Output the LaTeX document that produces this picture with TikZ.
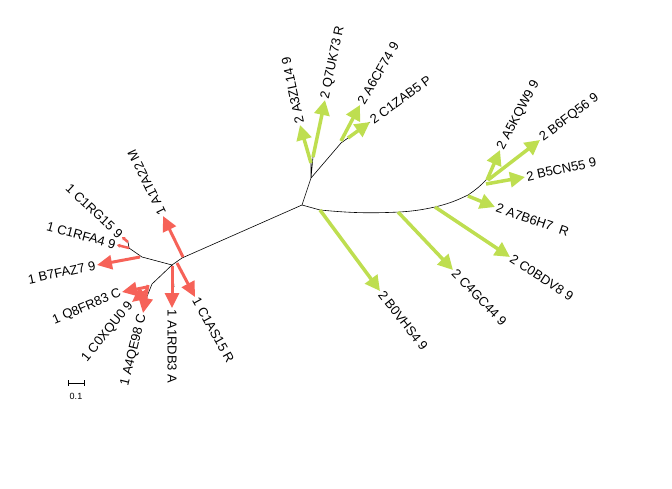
\documentclass[tikz,border=0pt]{standalone}
\usepackage{fontspec}
\setmainfont{Liberation Sans}
\usetikzlibrary{arrows.meta, positioning}

\definecolor{leafred}{RGB}{246,98,88}
\definecolor{leafgreen}{RGB}{190,222,80}

\tikzset{
	branch/.style={draw=black, line width=0.6pt},
	redarrow/.style={draw=leafred, line width=3pt, -{Triangle[length=15pt, width=14pt]}},
	redstub/.style={draw=leafred, line width=2.5pt, -{Triangle[length=3pt, width=4pt]}},
	greenarrow/.style={draw=leafgreen, line width=3.5pt, -{Triangle[length=15pt, width=15pt]}},
	leaf/.style={font=\fontsize{13}{15}\selectfont, inner sep=1.5pt},
}

\begin{document}
\begin{tikzpicture}[x=1pt, y=-1pt]
	\useasboundingbox (0,0) rectangle (672,488);
	% inner nodes of the tree
	\coordinate (root) at (302,205);
	\coordinate (up1) at (311,178);
	\coordinate (up2) at (341,143);
	\coordinate (rt1) at (320,210);
	\coordinate (rt2) at (400,212);
	\coordinate (rt3) at (435,207);
	\coordinate (rt4) at (468,195);
	\coordinate (rt5) at (487,179);
	\coordinate (lf1) at (182,258);
	\coordinate (lf2) at (172,265);
	\coordinate (lf3) at (142,257);
	\coordinate (lf4) at (129,248);
	\coordinate (lf5) at (152,284);
	\coordinate (lf6) at (146,299);
	\coordinate (lf7) at (174,287);
	% arrow starts and tips
	\coordinate (sA3ZL14) at (311,163);  \coordinate (eA3ZL14) at (300,125);
	\coordinate (sQ7UK73) at (313,157);  \coordinate (eQ7UK73) at (325,100);
	\coordinate (sA6CF74) at (341,141);  \coordinate (eA6CF74) at (360,105);
	\coordinate (sC1ZAB5) at (348,138);  \coordinate (eC1ZAB5) at (370,122);
	\coordinate (sB0VHS4) at (320,210);  \coordinate (eB0VHS4) at (380,291);
	\coordinate (sC4GC44) at (398,212);  \coordinate (eC4GC44) at (453,270);
	\coordinate (sC0BDV8) at (435,207);  \coordinate (eC0BDV8) at (510,257);
	\coordinate (sA7B6H7) at (468,196);  \coordinate (eA7B6H7) at (495,207);
	\coordinate (sB5CN55) at (486,184);  \coordinate (eB5CN55) at (525,177);
	\coordinate (sB6FQ56) at (488,180);  \coordinate (eB6FQ56) at (540,140);
	\coordinate (sA5KQW9) at (487,180);  \coordinate (eA5KQW9) at (500,150);
	\coordinate (sA1TA22) at (183,257);  \coordinate (eA1TA22) at (163,216);
	\coordinate (sC1AS15) at (177,263);  \coordinate (eC1AS15) at (195,297);
	\coordinate (sA1RDB3) at (172,266);  \coordinate (eA1RDB3) at (172,308);
	\coordinate (sB7FAZ7) at (140,257);  \coordinate (eB7FAZ7) at (97,265);
	\coordinate (sC1RFA4) at (129,248);  \coordinate (eC1RFA4) at (117,245);
	\coordinate (sC1RG15) at (128,242);  \coordinate (eC1RG15) at (122,237);
	\coordinate (sQ8FR83) at (147,287);  \coordinate (eQ8FR83) at (122,292);
	\coordinate (sC0XQU0) at (147,290);  \coordinate (eC0XQU0) at (132,302);
	\coordinate (sA4QE98) at (148,285);  \coordinate (eA4QE98) at (143,313);
	% branches
	\draw[branch]
	(root) -- (up1) -- (sA3ZL14)
	(up1) -- (sQ7UK73)
	(up1) -- (up2) -- (sC1ZAB5) -- (eC1ZAB5)
	(root) -- (rt1) to[bend right=4] (rt2) to[bend right=4] (rt3) to[bend right=6] (rt4) to[bend right=6] (rt5)
	(root) -- (lf1) -- (lf2) -- (lf3) -- (lf4) -- (sC1RG15)
	(lf2) -- (lf5) -- (lf6)
	(lf2) -- (lf7)
	;
	% green group
	\draw[greenarrow] (sA3ZL14) -- (eA3ZL14);
	\draw[greenarrow] (sQ7UK73) -- (eQ7UK73);
	\draw[greenarrow] (sA6CF74) -- (eA6CF74);
	\draw[greenarrow] (sC1ZAB5) -- (eC1ZAB5);
	\draw[greenarrow] (sB0VHS4) -- (eB0VHS4);
	\draw[greenarrow] (sC4GC44) -- (eC4GC44);
	\draw[greenarrow] (sC0BDV8) -- (eC0BDV8);
	\draw[greenarrow] (sA7B6H7) -- (eA7B6H7);
	\draw[greenarrow] (sB5CN55) -- (eB5CN55);
	\draw[greenarrow] (sB6FQ56) -- (eB6FQ56);
	\draw[greenarrow] (sA5KQW9) -- (eA5KQW9);
	\node[leaf, anchor=west, rotate=102] (A3ZL14) at (eA3ZL14) {2 A3ZL14 9};
	\node[leaf, anchor=west, rotate=78] (Q7UK73) at (eQ7UK73) {2 Q7UK73 R};
	\node[leaf, anchor=west, rotate=60] (A6CF74) at (eA6CF74) {2 A6CF74 9};
	\node[leaf, anchor=west, rotate=36] (C1ZAB5) at (eC1ZAB5) {2 C1ZAB5 P};
	\node[leaf, anchor=west, rotate=-52] (B0VHS4) at (eB0VHS4) {2 B0VHS4 9};
	\node[leaf, anchor=west, rotate=-46] (C4GC44) at (eC4GC44) {2 C4GC44 9};
	\node[leaf, anchor=west, rotate=-33] (C0BDV8) at (eC0BDV8) {2 C0BDV8 9};
	\node[leaf, anchor=west, rotate=-19] (A7B6H7) at (eA7B6H7) {2 A7B6H7\ \ R};
	\node[leaf, anchor=west, rotate=12] (B5CN55) at (eB5CN55) {2 B5CN55 9};
	\node[leaf, anchor=west, rotate=37] (B6FQ56) at (eB6FQ56) {2 B6FQ56 9};
	\node[leaf, anchor=west, rotate=62] (A5KQW9) at (eA5KQW9) {2 A5KQW9 9};
	% red group
	\draw[redarrow] (sA1TA22) -- (eA1TA22);
	\draw[redarrow] (sC1AS15) -- (eC1AS15);
	\draw[redarrow] (sA1RDB3) -- (eA1RDB3);
	\draw[redarrow] (sB7FAZ7) -- (eB7FAZ7);
	\draw[redstub] (sC1RFA4) -- (eC1RFA4);
	\draw[redstub] (sC1RG15) -- (eC1RG15);
	\draw[redarrow] (sQ8FR83) -- (eQ8FR83);
	\draw[redarrow] (sC0XQU0) -- (eC0XQU0);
	\draw[redarrow] (sA4QE98) -- (eA4QE98);
	\node[leaf, anchor=west, rotate=116] (A1TA22) at (eA1TA22) {1 A1TA22 M};
	\node[leaf, anchor=west, rotate=-61] (C1AS15) at (eC1AS15) {1 C1AS15 R};
	\node[leaf, anchor=west, rotate=-90] (A1RDB3) at (eA1RDB3) {1 A1RDB3 A};
	\node[leaf, anchor=east, rotate=12] (B7FAZ7) at (eB7FAZ7) {1 B7FAZ7 9};
	\node[leaf, anchor=east, rotate=-15] (C1RFA4) at (eC1RFA4) {1 C1RFA4 9};
	\node[leaf, anchor=east, rotate=-43] (C1RG15) at (eC1RG15) {1 C1RG15 9};
	\node[leaf, anchor=east, rotate=23] (Q8FR83) at (eQ8FR83) {1 Q8FR83 C};
	\node[leaf, anchor=east, rotate=51] (C0XQU0) at (eC0XQU0) {1 C0XQU0 9};
	\node[leaf, anchor=east, rotate=76] (A4QE98) at (eA4QE98) {1 A4QE98 C};
	% scale bar
	\draw[line width=0.6pt] (68,383) -- (84,383) (68,380) -- (68,386) (84,380) -- (84,386);
	\node[font=\fontsize{9}{10}\selectfont, inner sep=0pt] (scale) at (76,396) {0.1};
\end{tikzpicture}
\end{document}
